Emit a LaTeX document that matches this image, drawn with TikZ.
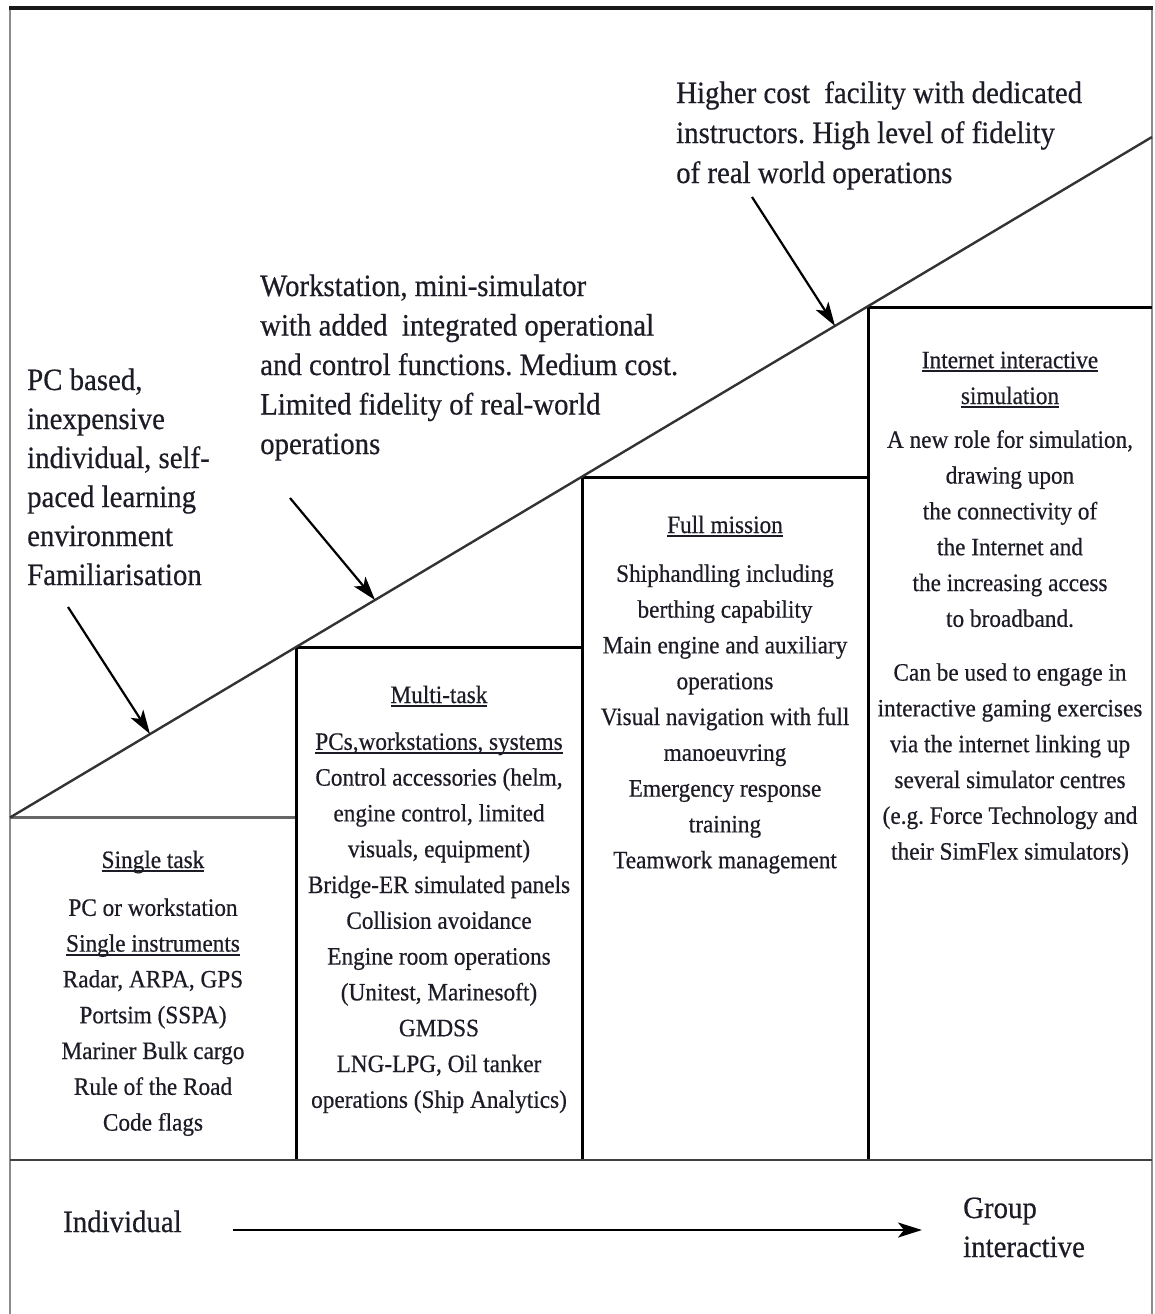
\documentclass[tikz,border=0pt]{standalone}
\usepackage{fontspec}
\setmainfont{Liberation Serif}[FakeStretch=0.93,FakeBold=0.5]
\usetikzlibrary{arrows.meta}
\definecolor{txt}{RGB}{28,28,38}
\frenchspacing
\newcommand\myul[1]{\setbox0\hbox{#1}\rlap{\rule[-4pt]{\wd0}{1.8pt}}\box0}
\tikzset{
  outer/.style={font=\fontsize{31}{39}\selectfont, align=left, inner sep=0pt, text=txt},
  boxtext/.style={font=\fontsize{25}{35.8}\selectfont, align=center, inner sep=0pt, text=txt},
  frameline/.style={line width=2.5pt, draw=black!45},
  topline/.style={line width=3.5pt, draw=black!90},
  boxline/.style={line width=3pt, draw=black},
  diag/.style={line width=2.4pt, draw=black!80},
  pointer/.style={line width=2.2pt, draw=black, -{Stealth[length=24pt,width=15pt,inset=6pt]}}
}
\begin{document}
\begin{tikzpicture}[x=1pt,y=-1pt]
\path[use as bounding box] (0,0) rectangle (1155,1314);
% frame
\draw[frameline] (10,8) -- (10,1314);
\draw[frameline] (1152,8) -- (1152,1314);
\draw[topline] (9,8) -- (1153,8);
% boxes
\draw[frameline, draw=black!60] (10,817.5) -- (296,817.5);
\draw[boxline] (296,1160) -- (296,647) -- (582,647);
\draw[boxline] (582,1160) -- (582,477) -- (868,477);
\draw[boxline] (868,1160) -- (868,307) -- (1152,307);
\draw[frameline, draw=black!75] (10,1160) -- (1152,1160);
% diagonal
\coordinate (d0) at (10,817.5);
\coordinate (d1) at (1152,137);
\draw[diag] (d0) -- (d1);
% upper texts (anchor = baseline of last line)
\node[outer, font=\fontsize{31}{40}\selectfont, anchor=base west] (hi) at (676,183) {Higher cost\ \ facility with dedicated\\instructors. High level of fidelity\\of real world operations};
\node[outer, font=\fontsize{31}{39.5}\selectfont, anchor=base west] (mid) at (260,454) {Workstation, mini-simulator\\with added\ \ integrated operational\\and control functions. Medium cost.\\Limited fidelity of real-world\\operations};
\node[outer, anchor=base west] (lo) at (27,585) {PC based,\\inexpensive\\individual, self-\\paced learning\\environment\\Familiarisation};
% pointer arrows
\coordinate (t1) at (68,607);  \coordinate (h1) at (150,734);
\coordinate (t2) at (290,498); \coordinate (h2) at (375,600);
\coordinate (t3) at (752,197); \coordinate (h3) at (835,326);
\draw[pointer] (t1) -- (h1);
\draw[pointer] (t2) -- (h2);
\draw[pointer] (t3) -- (h3);
% box texts (anchor = baseline of last line)
\node[boxtext, anchor=base] (single) at (153,1130.6) {\myul{Single task}\\[12pt]PC or workstation\\\myul{Single instruments}\\Radar, ARPA, GPS\\Portsim (SSPA)\\Mariner Bulk cargo\\Rule of the Road\\Code flags};
\node[boxtext, anchor=base] (multi) at (439,1107.8) {\myul{Multi-task}\\[11pt]\myul{PCs,workstations, systems}\\Control accessories (helm,\\engine control, limited\\visuals, equipment)\\Bridge-ER simulated panels\\Collision avoidance\\Engine room operations\\(Unitest, Marinesoft)\\GMDSS\\LNG-LPG, Oil tanker\\operations (Ship Analytics)};
\node[boxtext, anchor=base] (full) at (725,868.2) {\myul{Full mission}\\[13pt]Shiphandling including\\berthing capability\\Main engine and auxiliary\\operations\\Visual navigation with full\\manoeuvring\\Emergency response\\training\\Teamwork management};
\node[boxtext, anchor=base] (inet) at (1010,859.6) {\myul{Internet interactive}\\\myul{simulation}\\[8pt]A new role for simulation,\\drawing upon\\the connectivity of\\the Internet and\\the increasing access\\to broadband.\\[18pt]Can be used to engage in\\interactive gaming exercises\\via the internet linking up\\several simulator centres\\(e.g. Force Technology and\\their SimFlex simulators)};
% bottom
\node[outer, anchor=base west] (ind) at (63,1232) {Individual};
\node[outer, anchor=base west] (grp) at (963,1257) {Group\\interactive};
\coordinate (ia) at (233,1230);
\coordinate (ib) at (922,1230);
\draw[pointer] (ia) -- (ib);
\end{tikzpicture}
\end{document}
